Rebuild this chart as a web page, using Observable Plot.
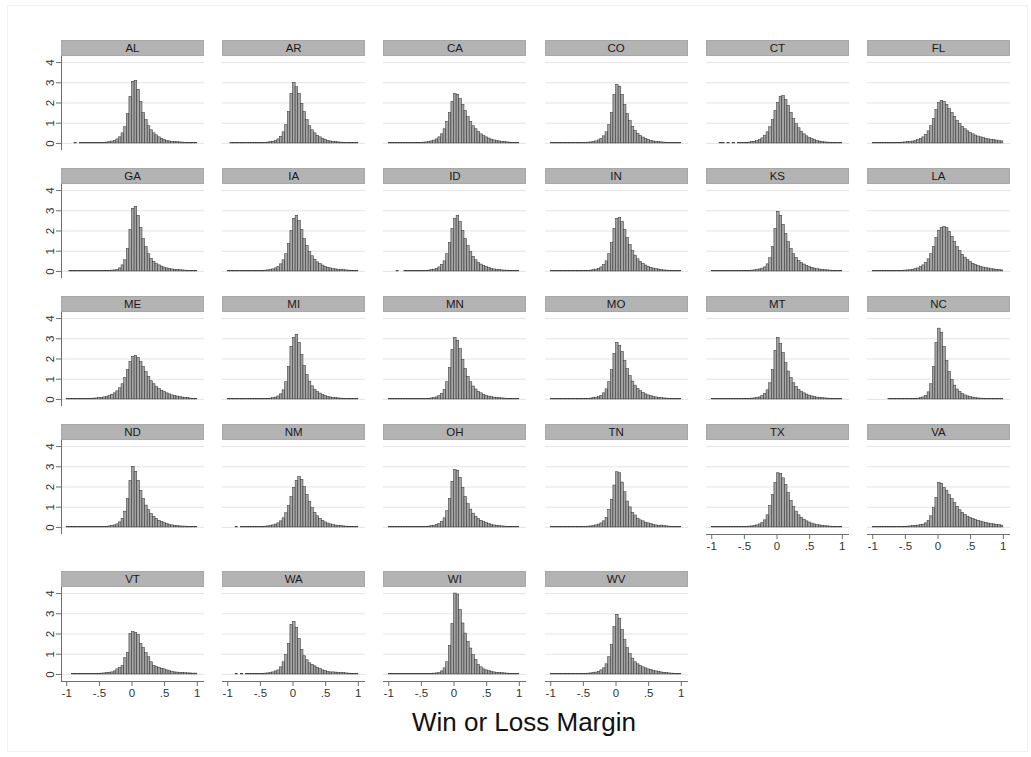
<!DOCTYPE html>
<html>
<head>
<meta charset="utf-8">
<script src="https://cdn.jsdelivr.net/npm/d3@7"></script>
<script src="https://cdn.jsdelivr.net/npm/@observablehq/plot@0.6"></script>
<style>
  body { margin: 0; background: #fff; font-family: "Liberation Sans", Arial, sans-serif; }
  #chart { position: relative; width: 1031px; height: 757px; overflow: hidden; background: #fff; }
  .frame { position: absolute; left: 7px; top: 5px; width: 1021px; height: 747px; border: 1px solid #f0f3f3; box-sizing: border-box; }
  .strip { position: absolute; width: 143px; height: 16px; box-sizing: border-box; background: #b3b3b3; border: 1px solid #a8a8a8;
           text-align: center; font-size: 11.5px; line-height: 14px; color: #1a1a1a; font-family: "Liberation Sans", Arial, sans-serif; }
  .xtitle { position: absolute; left: 274px; width: 500px; top: 707px; text-align: center; font-size: 26px; line-height: 30px;
            color: #111; font-family: "Liberation Sans", Arial, sans-serif; }
  svg { position: absolute; }
</style>
</head>
<body>
<div id="chart"><div class="frame"></div></div>
<script>
// ---- data ----
const states = ["AL","AR","CA","CO","CT","FL","GA","IA","ID","IN","KS","LA","ME","MI","MN","MO","MT","NC",
                "ND","NM","OH","TN","TX","VA","VT","WA","WI","WV"];
const binLow = -1, binWidth = 0.04, binCount = 50;   // histogram bins over the margin range
const xTicks = [-1, -0.5, 0, 0.5, 1];
const xTickLabels = ["-1", "-.5", "0", ".5", "1"];
const yTicks = [0, 1, 2, 3, 4];
const xTitle = "Win or Loss Margin";

// density per bin (50 bins, -1 to 1)
const AL = [0,0,0,0.01,0,0.01,0.01,0.01,0.01,0.01, 0.01,0.02,0.02,0.02,0.03,0.04,0.06,0.09,0.12,0.2, 0.3,0.5,0.8,1.45,2.3,3.05,3.1,2.65,2.05,1.5, 1.15,0.85,0.65,0.5,0.4,0.3,0.22,0.17,0.13,0.1, 0.08,0.07,0.06,0.05,0.04,0.03,0.03,0.02,0.02,0.01];
const AR = [0,0.01,0.01,0.01,0.01,0.01,0.01,0.01,0.01,0.01, 0.01,0.02,0.02,0.02,0.03,0.04,0.06,0.08,0.12,0.2, 0.33,0.55,0.9,1.55,2.45,3.0,2.78,2.45,1.95,1.55, 1.15,0.85,0.65,0.5,0.38,0.3,0.23,0.18,0.13,0.1, 0.08,0.06,0.05,0.04,0.03,0.03,0.02,0.02,0.01,0.01];
const CA = [0.01,0.01,0.01,0.01,0.01,0.01,0.01,0.02,0.02,0.02, 0.02,0.03,0.03,0.04,0.05,0.07,0.1,0.14,0.2,0.3, 0.45,0.7,1.05,1.5,2.05,2.45,2.4,2.2,1.9,1.6, 1.3,1.05,0.85,0.7,0.56,0.45,0.36,0.3,0.24,0.19, 0.15,0.12,0.1,0.08,0.06,0.05,0.04,0.03,0.02,0.02];
const CO = [0.01,0.01,0.01,0.01,0.01,0.01,0.01,0.01,0.02,0.02, 0.02,0.02,0.03,0.03,0.04,0.05,0.07,0.1,0.15,0.23, 0.35,0.55,0.9,1.5,2.4,2.9,2.8,2.4,1.9,1.45, 1.1,0.82,0.62,0.47,0.37,0.29,0.22,0.17,0.13,0.1, 0.08,0.06,0.05,0.04,0.03,0.03,0.02,0.02,0.01,0.01];
const CT = [0,0,0,0.01,0.01,0,0.01,0,0.01,0, 0.01,0.01,0.02,0.03,0.04,0.06,0.08,0.12,0.17,0.25, 0.38,0.55,0.8,1.15,1.6,2.0,2.3,2.35,2.15,1.85, 1.5,1.2,0.95,0.75,0.58,0.45,0.35,0.27,0.21,0.16, 0.12,0.09,0.07,0.05,0.04,0.03,0.02,0.02,0.01,0.01];
const FL = [0.01,0.01,0.01,0.01,0.01,0.02,0.02,0.02,0.02,0.03, 0.03,0.04,0.05,0.06,0.07,0.09,0.12,0.16,0.22,0.3, 0.42,0.6,0.85,1.2,1.65,2.0,2.1,2.05,1.9,1.7, 1.5,1.3,1.1,0.95,0.82,0.7,0.6,0.52,0.45,0.39, 0.34,0.3,0.26,0.23,0.2,0.18,0.16,0.14,0.12,0.1];
const GA = [0,0.01,0.01,0.01,0.01,0.01,0.01,0.01,0.01,0.01, 0.01,0.01,0.02,0.02,0.02,0.03,0.03,0.04,0.05,0.08, 0.15,0.3,0.55,1.1,2.05,3.1,3.2,2.75,2.15,1.6, 1.2,0.85,0.62,0.47,0.37,0.3,0.24,0.19,0.15,0.12, 0.1,0.08,0.07,0.06,0.05,0.04,0.03,0.03,0.02,0.02];
const IA = [0.01,0.01,0.01,0.01,0.01,0.01,0.01,0.02,0.02,0.02, 0.02,0.03,0.03,0.03,0.04,0.05,0.07,0.1,0.15,0.22, 0.35,0.55,0.85,1.35,2.0,2.6,2.75,2.5,2.05,1.6, 1.25,0.95,0.75,0.58,0.45,0.36,0.29,0.23,0.18,0.15, 0.12,0.1,0.08,0.07,0.06,0.05,0.04,0.03,0.03,0.02];
const ID = [0,0,0,0.01,0,0,0.01,0.01,0.01,0.01, 0.01,0.02,0.02,0.03,0.03,0.04,0.06,0.09,0.13,0.2, 0.32,0.5,0.85,1.4,2.1,2.6,2.75,2.45,2.0,1.6, 1.25,0.95,0.72,0.55,0.43,0.34,0.27,0.21,0.17,0.13, 0.1,0.08,0.07,0.05,0.04,0.04,0.03,0.02,0.02,0.01];
const IN = [0.01,0.01,0.01,0.01,0.01,0.01,0.01,0.01,0.01,0.01, 0.01,0.02,0.02,0.03,0.03,0.04,0.06,0.09,0.13,0.2, 0.32,0.5,0.85,1.4,2.1,2.6,2.65,2.45,2.05,1.65, 1.3,1.0,0.78,0.6,0.47,0.37,0.29,0.23,0.18,0.14, 0.11,0.09,0.07,0.05,0.04,0.03,0.03,0.02,0.02,0.01];
const KS = [0.01,0.01,0.01,0.01,0.01,0.01,0.01,0.01,0.01,0.02, 0.02,0.02,0.02,0.03,0.03,0.04,0.05,0.07,0.1,0.14, 0.2,0.35,0.65,1.2,2.1,2.95,2.75,2.3,1.85,1.45, 1.1,0.85,0.66,0.52,0.42,0.34,0.28,0.22,0.18,0.14, 0.11,0.09,0.07,0.06,0.05,0.04,0.03,0.03,0.02,0.02];
const LA = [0.01,0.01,0.01,0.01,0.01,0.01,0.02,0.02,0.02,0.02, 0.03,0.03,0.04,0.05,0.06,0.08,0.11,0.15,0.21,0.3, 0.42,0.6,0.85,1.2,1.65,2.0,2.15,2.2,2.15,1.95, 1.7,1.45,1.2,1.0,0.82,0.68,0.56,0.46,0.38,0.32, 0.27,0.23,0.19,0.16,0.14,0.12,0.1,0.08,0.07,0.05];
const ME = [0.01,0.01,0.01,0.01,0.02,0.02,0.02,0.02,0.03,0.03, 0.04,0.05,0.06,0.08,0.1,0.13,0.17,0.23,0.3,0.4, 0.55,0.75,1.05,1.45,1.85,2.1,2.15,2.05,1.85,1.6, 1.35,1.1,0.9,0.75,0.62,0.52,0.43,0.36,0.3,0.25, 0.2,0.17,0.14,0.11,0.09,0.07,0.06,0.04,0.03,0.02];
const MI = [0.01,0.01,0.01,0.01,0.01,0.01,0.01,0.01,0.01,0.01, 0.01,0.01,0.02,0.02,0.02,0.03,0.04,0.06,0.09,0.15, 0.25,0.45,0.85,1.6,2.6,3.05,3.2,2.8,2.2,1.65, 1.2,0.88,0.65,0.48,0.37,0.29,0.22,0.17,0.13,0.1, 0.08,0.06,0.05,0.04,0.03,0.03,0.02,0.02,0.01,0.01];
const MN = [0.01,0.01,0.01,0.01,0.01,0.01,0.01,0.01,0.01,0.01, 0.01,0.01,0.02,0.02,0.03,0.03,0.05,0.07,0.1,0.16, 0.27,0.47,0.85,1.55,2.45,3.05,2.9,2.5,1.95,1.5, 1.12,0.85,0.64,0.49,0.38,0.3,0.23,0.18,0.14,0.11, 0.09,0.07,0.06,0.05,0.04,0.03,0.02,0.02,0.01,0.01];
const MO = [0.01,0.01,0.01,0.01,0.01,0.01,0.01,0.01,0.01,0.01, 0.01,0.02,0.02,0.03,0.03,0.04,0.06,0.08,0.12,0.18, 0.3,0.5,0.85,1.45,2.25,2.8,2.65,2.35,1.9,1.5, 1.15,0.88,0.68,0.52,0.41,0.32,0.25,0.2,0.16,0.12, 0.1,0.08,0.06,0.05,0.04,0.03,0.03,0.02,0.02,0.01];
const MT = [0.01,0.01,0.01,0.01,0.01,0.01,0.01,0.01,0.01,0.01, 0.01,0.01,0.02,0.02,0.03,0.04,0.05,0.07,0.1,0.16, 0.26,0.45,0.8,1.45,2.4,3.05,2.75,2.3,1.8,1.38, 1.05,0.8,0.62,0.48,0.38,0.3,0.24,0.19,0.15,0.12, 0.09,0.07,0.06,0.05,0.04,0.03,0.03,0.02,0.02,0.01];
const NC = [0,0,0,0,0,0,0.01,0.01,0.01,0.01, 0.01,0.01,0.01,0.01,0.02,0.02,0.03,0.04,0.06,0.1, 0.18,0.35,0.75,1.6,2.8,3.5,3.3,2.6,1.9,1.35, 0.95,0.68,0.49,0.36,0.27,0.2,0.15,0.12,0.09,0.07, 0.05,0.04,0.03,0.03,0.02,0.02,0.01,0.01,0.01,0.01];
const ND = [0.01,0.01,0.01,0.01,0.01,0.01,0.01,0.01,0.01,0.01, 0.01,0.01,0.02,0.02,0.03,0.03,0.05,0.07,0.1,0.15, 0.25,0.43,0.78,1.4,2.3,3.0,2.75,2.3,1.8,1.4, 1.08,0.85,0.66,0.52,0.41,0.33,0.26,0.21,0.17,0.13, 0.1,0.08,0.07,0.05,0.04,0.04,0.03,0.02,0.02,0.01];
const NM = [0,0,0,0.01,0,0.01,0.01,0.01,0.01,0.01, 0.02,0.02,0.03,0.03,0.04,0.05,0.07,0.1,0.14,0.2, 0.3,0.45,0.7,1.05,1.5,1.95,2.3,2.5,2.35,2.0, 1.6,1.25,0.95,0.72,0.55,0.42,0.32,0.25,0.19,0.15, 0.12,0.09,0.07,0.06,0.05,0.04,0.03,0.02,0.02,0.01];
const OH = [0.01,0.01,0.01,0.01,0.01,0.01,0.01,0.01,0.01,0.01, 0.01,0.02,0.02,0.03,0.03,0.04,0.06,0.08,0.11,0.17, 0.27,0.45,0.8,1.4,2.25,2.85,2.8,2.45,1.95,1.5, 1.15,0.88,0.68,0.53,0.42,0.33,0.26,0.21,0.16,0.13, 0.1,0.08,0.06,0.05,0.04,0.03,0.03,0.02,0.02,0.01];
const TN = [0.01,0.01,0.01,0.01,0.01,0.01,0.01,0.01,0.01,0.01, 0.01,0.02,0.02,0.03,0.04,0.05,0.07,0.1,0.14,0.2, 0.3,0.46,0.87,1.37,2.07,2.73,2.68,2.22,1.74,1.28, 0.99,0.71,0.59,0.43,0.35,0.3,0.22,0.2,0.17,0.13, 0.1,0.08,0.09,0.06,0.05,0.04,0.03,0.02,0.02,0.01];
const TX = [0.01,0.01,0.01,0.01,0.01,0.01,0.01,0.01,0.01,0.01, 0.01,0.02,0.02,0.03,0.04,0.05,0.07,0.1,0.15,0.22, 0.35,0.6,1.05,1.6,2.2,2.68,2.65,2.43,2.1,1.7, 1.3,1.0,0.78,0.6,0.48,0.38,0.3,0.24,0.19,0.15, 0.12,0.1,0.08,0.06,0.05,0.04,0.03,0.03,0.02,0.02];
const VA = [0.01,0.01,0.01,0.01,0.01,0.01,0.01,0.01,0.02,0.02, 0.02,0.03,0.03,0.04,0.05,0.06,0.07,0.09,0.11,0.14, 0.2,0.32,0.55,0.95,1.45,2.2,2.15,1.95,1.8,1.6, 1.4,1.2,1.02,0.85,0.72,0.62,0.53,0.47,0.42,0.37, 0.33,0.29,0.25,0.22,0.19,0.17,0.15,0.13,0.11,0.09];
const VT = [0,0,0.01,0.01,0.01,0.01,0.01,0.01,0.02,0.02, 0.02,0.03,0.03,0.04,0.05,0.06,0.08,0.1,0.15,0.25, 0.32,0.42,0.8,1.05,2.0,2.1,2.05,1.95,1.5,1.3, 1.05,0.85,0.6,0.42,0.38,0.33,0.28,0.25,0.2,0.16, 0.13,0.1,0.09,0.08,0.07,0.06,0.05,0.05,0.04,0.04];
const WA = [0,0,0,0.01,0,0.01,0,0.01,0.01,0.01, 0.01,0.02,0.02,0.03,0.04,0.05,0.07,0.1,0.15,0.2, 0.35,0.6,0.95,1.5,2.45,2.6,2.3,1.75,1.2,0.9, 0.7,0.55,0.47,0.4,0.32,0.26,0.2,0.16,0.13,0.1, 0.1,0.09,0.08,0.07,0.06,0.05,0.04,0.03,0.02,0.01];
const WI = [0.01,0.01,0.01,0.01,0.01,0.01,0.01,0.01,0.01,0.01, 0.01,0.01,0.01,0.01,0.02,0.02,0.03,0.04,0.05,0.07, 0.15,0.3,0.6,1.4,2.5,4.0,3.95,3.18,2.52,2.02, 1.61,1.28,0.95,0.71,0.46,0.35,0.25,0.2,0.16,0.13, 0.1,0.08,0.07,0.06,0.05,0.04,0.03,0.02,0.02,0.01];
const WV = [0.01,0.01,0.01,0.01,0.01,0.01,0.01,0.01,0.01,0.01, 0.01,0.02,0.02,0.03,0.04,0.05,0.07,0.09,0.12,0.2, 0.3,0.5,0.85,1.45,2.35,2.95,2.75,2.2,1.7,1.3, 1.0,0.78,0.6,0.5,0.42,0.35,0.3,0.25,0.22,0.18, 0.15,0.12,0.1,0.08,0.06,0.05,0.04,0.03,0.02,0.02];

const densityBy = {AL, AR, CA, CO, CT, FL, GA, IA, ID, IN, KS, LA, ME, MI, MN, MO, MT, NC,
                   ND, NM, OH, TN, TX, VA, VT, WA, WI, WV};

// ---- layout ----
const NCOL = 6;
const panelW = 143, stripH = 16, plotH = 94;
const colLeft = c => 61 + 161.2 * c;
const rowTop = r => (r < 4 ? 40 + 128 * r : 571);
const xDomain = [-1.08, 1.11];
const yDomain = [-0.35, 4.3];
const font = "'Liberation Sans', Arial, sans-serif";

const chart = document.getElementById("chart");
const edges = d3.range(binCount + 1).map(k => binLow + binWidth * k);

states.forEach((s, i) => {
  const r = Math.floor(i / NCOL), c = i % NCOL;
  const left = colLeft(c), top = rowTop(r);
  const hasX = i + NCOL >= states.length;
  const hasY = c === 0;

  const strip = document.createElement("div");
  strip.className = "strip";
  strip.textContent = s;
  strip.style.left = left + "px";
  strip.style.top = top + "px";
  chart.appendChild(strip);

  const rows = densityBy[s].map((d, k) => ({x1: edges[k], x2: edges[k + 1], d})).filter(o => o.d > 0);
  const ml = hasY ? 30 : 0, mb = hasX ? 26 : 0;

  const marks = [
    Plot.ruleY(yTicks, {stroke: "#e2e5e5", strokeWidth: 1}),
    Plot.rectY(rows, {x1: "x1", x2: "x2", y: "d", fill: "#a3a3a3", stroke: "#383838", strokeWidth: 0.55})
  ];
  if (hasY) {
    marks.push(Plot.ruleX([xDomain[0]], {stroke: "#6e6e6e", strokeWidth: 1}));
    marks.push(Plot.axisY({ticks: yTicks, label: null, tickSize: 5, tickPadding: 3, tickRotate: -90, stroke: "#6e6e6e",
                           fill: "#333", fontSize: 11.5, tickFormat: d => String(d)}));
  }
  if (hasX) {
    marks.push(Plot.ruleY([yDomain[0]], {stroke: "#6e6e6e", strokeWidth: 1}));
    marks.push(Plot.axisX({ticks: xTicks, label: null, tickSize: 5, tickPadding: 2, stroke: "#6e6e6e", fill: "#333",
                           fontSize: 11.5, tickFormat: d => xTickLabels[xTicks.indexOf(d)]}));
  }

  const svg = Plot.plot({
    width: panelW + ml,
    height: plotH + mb,
    marginLeft: ml, marginRight: 0, marginTop: 0, marginBottom: mb,
    x: {domain: xDomain, axis: null, label: null},
    y: {domain: yDomain, axis: null, label: null},
    style: {background: "transparent", fontFamily: font, fontSize: "11.5px", color: "#333", overflow: "visible"},
    marks
  });
  svg.style.position = "absolute";
  svg.style.left = (left - ml) + "px";
  svg.style.top = (top + stripH) + "px";
  svg.style.maxWidth = "none";
  chart.appendChild(svg);
});

const title = document.createElement("div");
title.className = "xtitle";
title.textContent = xTitle;
chart.appendChild(title);
</script>
</body>
</html>
